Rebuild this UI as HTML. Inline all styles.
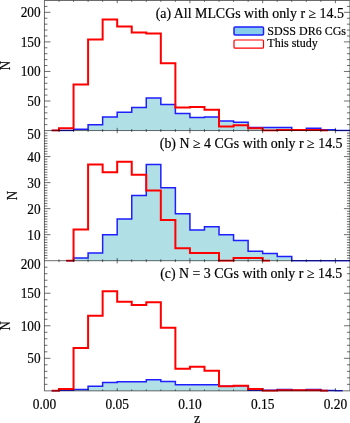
<!DOCTYPE html>
<html><head><meta charset="utf-8"><style>html,body{margin:0;padding:0;background:#fff;}body{width:350px;height:423px;overflow:hidden;}svg{display:block;will-change:transform;}text{font-family:"Liberation Serif",serif;fill:#000;stroke:#000;stroke-width:0.18px;}</style></head><body>
<svg width="350" height="423" viewBox="0 0 350 423">
<clipPath id="c0"><rect x="43.45" y="-0.50" width="307.50" height="132.05"/></clipPath>
<g clip-path="url(#c0)">
<polygon points="51.72,130.55 51.72,130.55 59.00,130.55 59.00,130.55 73.55,130.55 73.55,129.37 88.09,129.37 88.09,124.64 102.64,124.64 102.64,116.95 117.19,116.95 117.19,112.22 131.74,112.22 131.74,107.50 146.28,107.50 146.28,98.04 160.83,98.04 160.83,104.54 175.38,104.54 175.38,113.41 189.93,113.41 189.93,117.55 204.47,117.55 204.47,116.95 219.02,116.95 219.02,121.09 233.57,121.09 233.57,122.27 248.12,122.27 248.12,127.59 262.66,127.59 262.66,127.59 277.21,127.59 277.21,127.59 291.76,127.59 291.76,129.72 306.31,129.72 306.31,128.36 320.85,128.36 320.85,129.72 335.40,129.72 335.40,130.55 349.95,130.55 349.95,130.55 357.22,130.55 357.22,130.55" fill="#b0e0e6"/>
</g>
<clipPath id="c1"><rect x="43.45" y="129.55" width="307.50" height="132.15"/></clipPath>
<g clip-path="url(#c1)">
<polygon points="66.27,260.70 66.27,260.70 73.55,260.70 73.55,258.10 88.09,258.10 88.09,252.89 102.64,252.89 102.64,234.67 117.19,234.67 117.19,219.05 131.74,219.05 131.74,195.62 146.28,195.62 146.28,164.39 160.83,164.39 160.83,187.82 175.38,187.82 175.38,213.85 189.93,213.85 189.93,229.98 204.47,229.98 204.47,226.86 219.02,226.86 219.02,234.67 233.57,234.67 233.57,240.40 248.12,240.40 248.12,251.33 262.66,251.33 262.66,253.41 277.21,253.41 277.21,256.54 291.76,256.54 291.76,260.70 306.31,260.70 306.31,260.70 320.85,260.70 320.85,260.70 335.40,260.70 335.40,260.70 349.95,260.70 349.95,260.70 364.49,260.70 364.49,260.70 371.77,260.70 371.77,260.70" fill="#b0e0e6"/>
</g>
<clipPath id="c2"><rect x="43.45" y="259.70" width="307.50" height="132.15"/></clipPath>
<g clip-path="url(#c2)">
<polygon points="51.72,390.85 51.72,390.85 59.00,390.85 59.00,390.20 73.55,390.20 73.55,389.55 88.09,389.55 88.09,386.29 102.64,386.29 102.64,382.39 117.19,382.39 117.19,381.74 131.74,381.74 131.74,381.74 146.28,381.74 146.28,379.79 160.83,379.79 160.83,381.61 175.38,381.61 175.38,384.80 189.93,384.80 189.93,384.80 204.47,384.80 204.47,384.80 219.02,384.80 219.02,386.29 233.57,386.29 233.57,385.64 248.12,385.64 248.12,390.20 262.66,390.20 262.66,390.20 277.21,390.20 277.21,389.55 291.76,389.55 291.76,390.20 306.31,390.20 306.31,389.55 320.85,389.55 320.85,390.52 335.40,390.52 335.40,390.85 342.67,390.85 342.67,390.85" fill="#b0e0e6"/>
</g>
<g clip-path="url(#c0)" fill="none" stroke-linejoin="miter" stroke-linecap="butt">
<polyline points="51.72,130.55 59.00,130.55 59.00,130.55 73.55,130.55 73.55,129.37 88.09,129.37 88.09,124.64 102.64,124.64 102.64,116.95 117.19,116.95 117.19,112.22 131.74,112.22 131.74,107.50 146.28,107.50 146.28,98.04 160.83,98.04 160.83,104.54 175.38,104.54 175.38,113.41 189.93,113.41 189.93,117.55 204.47,117.55 204.47,116.95 219.02,116.95 219.02,121.09 233.57,121.09 233.57,122.27 248.12,122.27 248.12,127.59 262.66,127.59 262.66,127.59 277.21,127.59 277.21,127.59 291.76,127.59 291.76,129.72 306.31,129.72 306.31,128.36 320.85,128.36 320.85,129.72 335.40,129.72 335.40,130.55 349.95,130.55 349.95,130.55 357.22,130.55" stroke="#1e1eff" stroke-width="1.5"/>
<polyline points="51.72,130.55 59.00,130.55 59.00,128.19 73.55,128.19 73.55,84.44 88.09,84.44 88.09,39.52 102.64,39.52 102.64,19.42 117.19,19.42 117.19,26.51 131.74,26.51 131.74,32.42 146.28,32.42 146.28,33.60 160.83,33.60 160.83,63.16 175.38,63.16 175.38,107.50 189.93,107.50 189.93,106.90 204.47,106.90 204.47,109.86 219.02,109.86 219.02,126.41 233.57,126.41 233.57,125.23 248.12,125.23 248.12,128.19 262.66,128.19 262.66,130.55 277.21,130.55 277.21,129.96 291.76,129.96 291.76,129.96 306.31,129.96 306.31,129.96 320.85,129.96 320.85,130.55 328.13,130.55" stroke="#ff0000" stroke-width="2"/>
</g>
<g clip-path="url(#c1)" fill="none" stroke-linejoin="miter" stroke-linecap="butt">
<polyline points="66.27,260.70 73.55,260.70 73.55,258.10 88.09,258.10 88.09,252.89 102.64,252.89 102.64,234.67 117.19,234.67 117.19,219.05 131.74,219.05 131.74,195.62 146.28,195.62 146.28,164.39 160.83,164.39 160.83,187.82 175.38,187.82 175.38,213.85 189.93,213.85 189.93,229.98 204.47,229.98 204.47,226.86 219.02,226.86 219.02,234.67 233.57,234.67 233.57,240.40 248.12,240.40 248.12,251.33 262.66,251.33 262.66,253.41 277.21,253.41 277.21,256.54 291.76,256.54 291.76,260.70 306.31,260.70 306.31,260.70 320.85,260.70 320.85,260.70 335.40,260.70 335.40,260.70 349.95,260.70 349.95,260.70 364.49,260.70 364.49,260.70 371.77,260.70" stroke="#1e1eff" stroke-width="1.5"/>
<polyline points="66.27,260.70 73.55,260.70 73.55,229.46 88.09,229.46 88.09,164.39 102.64,164.39 102.64,172.20 117.19,172.20 117.19,161.79 131.74,161.79 131.74,174.80 146.28,174.80 146.28,190.42 160.83,190.42 160.83,220.09 175.38,220.09 175.38,248.34 189.93,248.34 189.93,252.89 204.47,252.89 204.47,252.89 219.02,252.89 219.02,260.70 233.57,260.70 233.57,258.10 248.12,258.10 248.12,258.10 262.66,258.10 262.66,260.70 269.94,260.70" stroke="#ff0000" stroke-width="2"/>
</g>
<g clip-path="url(#c2)" fill="none" stroke-linejoin="miter" stroke-linecap="butt">
<polyline points="51.72,390.85 59.00,390.85 59.00,390.20 73.55,390.20 73.55,389.55 88.09,389.55 88.09,386.29 102.64,386.29 102.64,382.39 117.19,382.39 117.19,381.74 131.74,381.74 131.74,381.74 146.28,381.74 146.28,379.79 160.83,379.79 160.83,381.61 175.38,381.61 175.38,384.80 189.93,384.80 189.93,384.80 204.47,384.80 204.47,384.80 219.02,384.80 219.02,386.29 233.57,386.29 233.57,385.64 248.12,385.64 248.12,390.20 262.66,390.20 262.66,390.20 277.21,390.20 277.21,389.55 291.76,389.55 291.76,390.20 306.31,390.20 306.31,389.55 320.85,389.55 320.85,390.52 335.40,390.52 335.40,390.85 342.67,390.85" stroke="#1e1eff" stroke-width="1.5"/>
<polyline points="51.72,390.85 59.00,390.85 59.00,388.90 73.55,388.90 73.55,347.90 88.09,347.90 88.09,315.69 102.64,315.69 102.64,291.29 117.19,291.29 117.19,301.70 131.74,301.70 131.74,304.95 146.28,304.95 146.28,302.35 160.83,302.35 160.83,327.73 175.38,327.73 175.38,368.72 189.93,368.72 189.93,366.77 204.47,366.77 204.47,370.68 219.02,370.68 219.02,386.29 233.57,386.29 233.57,385.64 248.12,385.64 248.12,388.90 262.66,388.90 262.66,390.85 277.21,390.85 277.21,390.20 291.76,390.20 291.76,390.20 306.31,390.20 306.31,390.20 320.85,390.20 320.85,390.85 328.13,390.85" stroke="#ff0000" stroke-width="2"/>
</g>
<g stroke="#000" stroke-width="0.58" fill="none">
<line x1="44.45" y1="0.50" x2="44.45" y2="130.55"/>
<line x1="349.95" y1="0.50" x2="349.95" y2="130.55"/>
<line x1="44.16" y1="0.50" x2="349.95" y2="0.50"/>
<line x1="59.00" y1="130.55" x2="59.00" y2="129.15"/>
<line x1="59.00" y1="0.50" x2="59.00" y2="1.90"/>
<line x1="73.55" y1="130.55" x2="73.55" y2="129.15"/>
<line x1="73.55" y1="0.50" x2="73.55" y2="1.90"/>
<line x1="88.09" y1="130.55" x2="88.09" y2="129.15"/>
<line x1="88.09" y1="0.50" x2="88.09" y2="1.90"/>
<line x1="102.64" y1="130.55" x2="102.64" y2="129.15"/>
<line x1="102.64" y1="0.50" x2="102.64" y2="1.90"/>
<line x1="117.19" y1="130.55" x2="117.19" y2="127.85"/>
<line x1="117.19" y1="0.50" x2="117.19" y2="3.20"/>
<line x1="131.74" y1="130.55" x2="131.74" y2="129.15"/>
<line x1="131.74" y1="0.50" x2="131.74" y2="1.90"/>
<line x1="146.28" y1="130.55" x2="146.28" y2="129.15"/>
<line x1="146.28" y1="0.50" x2="146.28" y2="1.90"/>
<line x1="160.83" y1="130.55" x2="160.83" y2="129.15"/>
<line x1="160.83" y1="0.50" x2="160.83" y2="1.90"/>
<line x1="175.38" y1="130.55" x2="175.38" y2="129.15"/>
<line x1="175.38" y1="0.50" x2="175.38" y2="1.90"/>
<line x1="189.93" y1="130.55" x2="189.93" y2="127.85"/>
<line x1="189.93" y1="0.50" x2="189.93" y2="3.20"/>
<line x1="204.47" y1="130.55" x2="204.47" y2="129.15"/>
<line x1="204.47" y1="0.50" x2="204.47" y2="1.90"/>
<line x1="219.02" y1="130.55" x2="219.02" y2="129.15"/>
<line x1="219.02" y1="0.50" x2="219.02" y2="1.90"/>
<line x1="233.57" y1="130.55" x2="233.57" y2="129.15"/>
<line x1="233.57" y1="0.50" x2="233.57" y2="1.90"/>
<line x1="248.12" y1="130.55" x2="248.12" y2="129.15"/>
<line x1="248.12" y1="0.50" x2="248.12" y2="1.90"/>
<line x1="262.66" y1="130.55" x2="262.66" y2="127.85"/>
<line x1="262.66" y1="0.50" x2="262.66" y2="3.20"/>
<line x1="277.21" y1="130.55" x2="277.21" y2="129.15"/>
<line x1="277.21" y1="0.50" x2="277.21" y2="1.90"/>
<line x1="291.76" y1="130.55" x2="291.76" y2="129.15"/>
<line x1="291.76" y1="0.50" x2="291.76" y2="1.90"/>
<line x1="306.31" y1="130.55" x2="306.31" y2="129.15"/>
<line x1="306.31" y1="0.50" x2="306.31" y2="1.90"/>
<line x1="320.85" y1="130.55" x2="320.85" y2="129.15"/>
<line x1="320.85" y1="0.50" x2="320.85" y2="1.90"/>
<line x1="335.40" y1="130.55" x2="335.40" y2="127.85"/>
<line x1="335.40" y1="0.50" x2="335.40" y2="3.20"/>
<line x1="44.45" y1="124.64" x2="47.45" y2="124.64"/>
<line x1="349.95" y1="124.64" x2="346.95" y2="124.64"/>
<line x1="44.45" y1="118.73" x2="47.45" y2="118.73"/>
<line x1="349.95" y1="118.73" x2="346.95" y2="118.73"/>
<line x1="44.45" y1="112.82" x2="47.45" y2="112.82"/>
<line x1="349.95" y1="112.82" x2="346.95" y2="112.82"/>
<line x1="44.45" y1="106.90" x2="47.45" y2="106.90"/>
<line x1="349.95" y1="106.90" x2="346.95" y2="106.90"/>
<line x1="44.45" y1="100.99" x2="50.45" y2="100.99"/>
<line x1="349.95" y1="100.99" x2="343.95" y2="100.99"/>
<line x1="44.45" y1="95.08" x2="47.45" y2="95.08"/>
<line x1="349.95" y1="95.08" x2="346.95" y2="95.08"/>
<line x1="44.45" y1="89.17" x2="47.45" y2="89.17"/>
<line x1="349.95" y1="89.17" x2="346.95" y2="89.17"/>
<line x1="44.45" y1="83.26" x2="47.45" y2="83.26"/>
<line x1="349.95" y1="83.26" x2="346.95" y2="83.26"/>
<line x1="44.45" y1="77.35" x2="47.45" y2="77.35"/>
<line x1="349.95" y1="77.35" x2="346.95" y2="77.35"/>
<line x1="44.45" y1="71.44" x2="50.45" y2="71.44"/>
<line x1="349.95" y1="71.44" x2="343.95" y2="71.44"/>
<line x1="44.45" y1="65.53" x2="47.45" y2="65.53"/>
<line x1="349.95" y1="65.53" x2="346.95" y2="65.53"/>
<line x1="44.45" y1="59.61" x2="47.45" y2="59.61"/>
<line x1="349.95" y1="59.61" x2="346.95" y2="59.61"/>
<line x1="44.45" y1="53.70" x2="47.45" y2="53.70"/>
<line x1="349.95" y1="53.70" x2="346.95" y2="53.70"/>
<line x1="44.45" y1="47.79" x2="47.45" y2="47.79"/>
<line x1="349.95" y1="47.79" x2="346.95" y2="47.79"/>
<line x1="44.45" y1="41.88" x2="50.45" y2="41.88"/>
<line x1="349.95" y1="41.88" x2="343.95" y2="41.88"/>
<line x1="44.45" y1="35.97" x2="47.45" y2="35.97"/>
<line x1="349.95" y1="35.97" x2="346.95" y2="35.97"/>
<line x1="44.45" y1="30.06" x2="47.45" y2="30.06"/>
<line x1="349.95" y1="30.06" x2="346.95" y2="30.06"/>
<line x1="44.45" y1="24.15" x2="47.45" y2="24.15"/>
<line x1="349.95" y1="24.15" x2="346.95" y2="24.15"/>
<line x1="44.45" y1="18.23" x2="47.45" y2="18.23"/>
<line x1="349.95" y1="18.23" x2="346.95" y2="18.23"/>
<line x1="44.45" y1="12.32" x2="50.45" y2="12.32"/>
<line x1="349.95" y1="12.32" x2="343.95" y2="12.32"/>
<line x1="44.45" y1="6.41" x2="47.45" y2="6.41"/>
<line x1="349.95" y1="6.41" x2="346.95" y2="6.41"/>
</g>
<g stroke="#000" stroke-width="0.58" fill="none">
<line x1="44.45" y1="130.55" x2="44.45" y2="260.70"/>
<line x1="349.95" y1="130.55" x2="349.95" y2="260.70"/>
<line x1="44.16" y1="130.55" x2="349.95" y2="130.55"/>
<line x1="59.00" y1="260.70" x2="59.00" y2="259.30"/>
<line x1="59.00" y1="130.55" x2="59.00" y2="131.95"/>
<line x1="73.55" y1="260.70" x2="73.55" y2="259.30"/>
<line x1="73.55" y1="130.55" x2="73.55" y2="131.95"/>
<line x1="88.09" y1="260.70" x2="88.09" y2="259.30"/>
<line x1="88.09" y1="130.55" x2="88.09" y2="131.95"/>
<line x1="102.64" y1="260.70" x2="102.64" y2="259.30"/>
<line x1="102.64" y1="130.55" x2="102.64" y2="131.95"/>
<line x1="117.19" y1="260.70" x2="117.19" y2="258.00"/>
<line x1="117.19" y1="130.55" x2="117.19" y2="133.25"/>
<line x1="131.74" y1="260.70" x2="131.74" y2="259.30"/>
<line x1="131.74" y1="130.55" x2="131.74" y2="131.95"/>
<line x1="146.28" y1="260.70" x2="146.28" y2="259.30"/>
<line x1="146.28" y1="130.55" x2="146.28" y2="131.95"/>
<line x1="160.83" y1="260.70" x2="160.83" y2="259.30"/>
<line x1="160.83" y1="130.55" x2="160.83" y2="131.95"/>
<line x1="175.38" y1="260.70" x2="175.38" y2="259.30"/>
<line x1="175.38" y1="130.55" x2="175.38" y2="131.95"/>
<line x1="189.93" y1="260.70" x2="189.93" y2="258.00"/>
<line x1="189.93" y1="130.55" x2="189.93" y2="133.25"/>
<line x1="204.47" y1="260.70" x2="204.47" y2="259.30"/>
<line x1="204.47" y1="130.55" x2="204.47" y2="131.95"/>
<line x1="219.02" y1="260.70" x2="219.02" y2="259.30"/>
<line x1="219.02" y1="130.55" x2="219.02" y2="131.95"/>
<line x1="233.57" y1="260.70" x2="233.57" y2="259.30"/>
<line x1="233.57" y1="130.55" x2="233.57" y2="131.95"/>
<line x1="248.12" y1="260.70" x2="248.12" y2="259.30"/>
<line x1="248.12" y1="130.55" x2="248.12" y2="131.95"/>
<line x1="262.66" y1="260.70" x2="262.66" y2="258.00"/>
<line x1="262.66" y1="130.55" x2="262.66" y2="133.25"/>
<line x1="277.21" y1="260.70" x2="277.21" y2="259.30"/>
<line x1="277.21" y1="130.55" x2="277.21" y2="131.95"/>
<line x1="291.76" y1="260.70" x2="291.76" y2="259.30"/>
<line x1="291.76" y1="130.55" x2="291.76" y2="131.95"/>
<line x1="306.31" y1="260.70" x2="306.31" y2="259.30"/>
<line x1="306.31" y1="130.55" x2="306.31" y2="131.95"/>
<line x1="320.85" y1="260.70" x2="320.85" y2="259.30"/>
<line x1="320.85" y1="130.55" x2="320.85" y2="131.95"/>
<line x1="335.40" y1="260.70" x2="335.40" y2="258.00"/>
<line x1="335.40" y1="130.55" x2="335.40" y2="133.25"/>
<line x1="44.45" y1="258.10" x2="47.45" y2="258.10"/>
<line x1="349.95" y1="258.10" x2="346.95" y2="258.10"/>
<line x1="44.45" y1="255.49" x2="47.45" y2="255.49"/>
<line x1="349.95" y1="255.49" x2="346.95" y2="255.49"/>
<line x1="44.45" y1="252.89" x2="47.45" y2="252.89"/>
<line x1="349.95" y1="252.89" x2="346.95" y2="252.89"/>
<line x1="44.45" y1="250.29" x2="47.45" y2="250.29"/>
<line x1="349.95" y1="250.29" x2="346.95" y2="250.29"/>
<line x1="44.45" y1="247.69" x2="47.45" y2="247.69"/>
<line x1="349.95" y1="247.69" x2="346.95" y2="247.69"/>
<line x1="44.45" y1="245.08" x2="47.45" y2="245.08"/>
<line x1="349.95" y1="245.08" x2="346.95" y2="245.08"/>
<line x1="44.45" y1="242.48" x2="47.45" y2="242.48"/>
<line x1="349.95" y1="242.48" x2="346.95" y2="242.48"/>
<line x1="44.45" y1="239.88" x2="47.45" y2="239.88"/>
<line x1="349.95" y1="239.88" x2="346.95" y2="239.88"/>
<line x1="44.45" y1="237.27" x2="47.45" y2="237.27"/>
<line x1="349.95" y1="237.27" x2="346.95" y2="237.27"/>
<line x1="44.45" y1="234.67" x2="50.45" y2="234.67"/>
<line x1="349.95" y1="234.67" x2="343.95" y2="234.67"/>
<line x1="44.45" y1="232.07" x2="47.45" y2="232.07"/>
<line x1="349.95" y1="232.07" x2="346.95" y2="232.07"/>
<line x1="44.45" y1="229.46" x2="47.45" y2="229.46"/>
<line x1="349.95" y1="229.46" x2="346.95" y2="229.46"/>
<line x1="44.45" y1="226.86" x2="47.45" y2="226.86"/>
<line x1="349.95" y1="226.86" x2="346.95" y2="226.86"/>
<line x1="44.45" y1="224.26" x2="47.45" y2="224.26"/>
<line x1="349.95" y1="224.26" x2="346.95" y2="224.26"/>
<line x1="44.45" y1="221.66" x2="47.45" y2="221.66"/>
<line x1="349.95" y1="221.66" x2="346.95" y2="221.66"/>
<line x1="44.45" y1="219.05" x2="47.45" y2="219.05"/>
<line x1="349.95" y1="219.05" x2="346.95" y2="219.05"/>
<line x1="44.45" y1="216.45" x2="47.45" y2="216.45"/>
<line x1="349.95" y1="216.45" x2="346.95" y2="216.45"/>
<line x1="44.45" y1="213.85" x2="47.45" y2="213.85"/>
<line x1="349.95" y1="213.85" x2="346.95" y2="213.85"/>
<line x1="44.45" y1="211.24" x2="47.45" y2="211.24"/>
<line x1="349.95" y1="211.24" x2="346.95" y2="211.24"/>
<line x1="44.45" y1="208.64" x2="50.45" y2="208.64"/>
<line x1="349.95" y1="208.64" x2="343.95" y2="208.64"/>
<line x1="44.45" y1="206.04" x2="47.45" y2="206.04"/>
<line x1="349.95" y1="206.04" x2="346.95" y2="206.04"/>
<line x1="44.45" y1="203.43" x2="47.45" y2="203.43"/>
<line x1="349.95" y1="203.43" x2="346.95" y2="203.43"/>
<line x1="44.45" y1="200.83" x2="47.45" y2="200.83"/>
<line x1="349.95" y1="200.83" x2="346.95" y2="200.83"/>
<line x1="44.45" y1="198.23" x2="47.45" y2="198.23"/>
<line x1="349.95" y1="198.23" x2="346.95" y2="198.23"/>
<line x1="44.45" y1="195.62" x2="47.45" y2="195.62"/>
<line x1="349.95" y1="195.62" x2="346.95" y2="195.62"/>
<line x1="44.45" y1="193.02" x2="47.45" y2="193.02"/>
<line x1="349.95" y1="193.02" x2="346.95" y2="193.02"/>
<line x1="44.45" y1="190.42" x2="47.45" y2="190.42"/>
<line x1="349.95" y1="190.42" x2="346.95" y2="190.42"/>
<line x1="44.45" y1="187.82" x2="47.45" y2="187.82"/>
<line x1="349.95" y1="187.82" x2="346.95" y2="187.82"/>
<line x1="44.45" y1="185.21" x2="47.45" y2="185.21"/>
<line x1="349.95" y1="185.21" x2="346.95" y2="185.21"/>
<line x1="44.45" y1="182.61" x2="50.45" y2="182.61"/>
<line x1="349.95" y1="182.61" x2="343.95" y2="182.61"/>
<line x1="44.45" y1="180.01" x2="47.45" y2="180.01"/>
<line x1="349.95" y1="180.01" x2="346.95" y2="180.01"/>
<line x1="44.45" y1="177.40" x2="47.45" y2="177.40"/>
<line x1="349.95" y1="177.40" x2="346.95" y2="177.40"/>
<line x1="44.45" y1="174.80" x2="47.45" y2="174.80"/>
<line x1="349.95" y1="174.80" x2="346.95" y2="174.80"/>
<line x1="44.45" y1="172.20" x2="47.45" y2="172.20"/>
<line x1="349.95" y1="172.20" x2="346.95" y2="172.20"/>
<line x1="44.45" y1="169.60" x2="47.45" y2="169.60"/>
<line x1="349.95" y1="169.60" x2="346.95" y2="169.60"/>
<line x1="44.45" y1="166.99" x2="47.45" y2="166.99"/>
<line x1="349.95" y1="166.99" x2="346.95" y2="166.99"/>
<line x1="44.45" y1="164.39" x2="47.45" y2="164.39"/>
<line x1="349.95" y1="164.39" x2="346.95" y2="164.39"/>
<line x1="44.45" y1="161.79" x2="47.45" y2="161.79"/>
<line x1="349.95" y1="161.79" x2="346.95" y2="161.79"/>
<line x1="44.45" y1="159.18" x2="47.45" y2="159.18"/>
<line x1="349.95" y1="159.18" x2="346.95" y2="159.18"/>
<line x1="44.45" y1="156.58" x2="50.45" y2="156.58"/>
<line x1="349.95" y1="156.58" x2="343.95" y2="156.58"/>
<line x1="44.45" y1="153.98" x2="47.45" y2="153.98"/>
<line x1="349.95" y1="153.98" x2="346.95" y2="153.98"/>
<line x1="44.45" y1="151.37" x2="47.45" y2="151.37"/>
<line x1="349.95" y1="151.37" x2="346.95" y2="151.37"/>
<line x1="44.45" y1="148.77" x2="47.45" y2="148.77"/>
<line x1="349.95" y1="148.77" x2="346.95" y2="148.77"/>
<line x1="44.45" y1="146.17" x2="47.45" y2="146.17"/>
<line x1="349.95" y1="146.17" x2="346.95" y2="146.17"/>
<line x1="44.45" y1="143.56" x2="47.45" y2="143.56"/>
<line x1="349.95" y1="143.56" x2="346.95" y2="143.56"/>
<line x1="44.45" y1="140.96" x2="47.45" y2="140.96"/>
<line x1="349.95" y1="140.96" x2="346.95" y2="140.96"/>
<line x1="44.45" y1="138.36" x2="47.45" y2="138.36"/>
<line x1="349.95" y1="138.36" x2="346.95" y2="138.36"/>
<line x1="44.45" y1="135.76" x2="47.45" y2="135.76"/>
<line x1="349.95" y1="135.76" x2="346.95" y2="135.76"/>
<line x1="44.45" y1="133.15" x2="47.45" y2="133.15"/>
<line x1="349.95" y1="133.15" x2="346.95" y2="133.15"/>
</g>
<g stroke="#000" stroke-width="0.58" fill="none">
<line x1="44.45" y1="260.70" x2="44.45" y2="390.85"/>
<line x1="349.95" y1="260.70" x2="349.95" y2="390.85"/>
<line x1="44.16" y1="260.70" x2="349.95" y2="260.70"/>
<line x1="44.16" y1="390.85" x2="349.95" y2="390.85"/>
<line x1="59.00" y1="390.85" x2="59.00" y2="389.45"/>
<line x1="59.00" y1="260.70" x2="59.00" y2="262.10"/>
<line x1="73.55" y1="390.85" x2="73.55" y2="389.45"/>
<line x1="73.55" y1="260.70" x2="73.55" y2="262.10"/>
<line x1="88.09" y1="390.85" x2="88.09" y2="389.45"/>
<line x1="88.09" y1="260.70" x2="88.09" y2="262.10"/>
<line x1="102.64" y1="390.85" x2="102.64" y2="389.45"/>
<line x1="102.64" y1="260.70" x2="102.64" y2="262.10"/>
<line x1="117.19" y1="390.85" x2="117.19" y2="388.15"/>
<line x1="117.19" y1="260.70" x2="117.19" y2="263.40"/>
<line x1="131.74" y1="390.85" x2="131.74" y2="389.45"/>
<line x1="131.74" y1="260.70" x2="131.74" y2="262.10"/>
<line x1="146.28" y1="390.85" x2="146.28" y2="389.45"/>
<line x1="146.28" y1="260.70" x2="146.28" y2="262.10"/>
<line x1="160.83" y1="390.85" x2="160.83" y2="389.45"/>
<line x1="160.83" y1="260.70" x2="160.83" y2="262.10"/>
<line x1="175.38" y1="390.85" x2="175.38" y2="389.45"/>
<line x1="175.38" y1="260.70" x2="175.38" y2="262.10"/>
<line x1="189.93" y1="390.85" x2="189.93" y2="388.15"/>
<line x1="189.93" y1="260.70" x2="189.93" y2="263.40"/>
<line x1="204.47" y1="390.85" x2="204.47" y2="389.45"/>
<line x1="204.47" y1="260.70" x2="204.47" y2="262.10"/>
<line x1="219.02" y1="390.85" x2="219.02" y2="389.45"/>
<line x1="219.02" y1="260.70" x2="219.02" y2="262.10"/>
<line x1="233.57" y1="390.85" x2="233.57" y2="389.45"/>
<line x1="233.57" y1="260.70" x2="233.57" y2="262.10"/>
<line x1="248.12" y1="390.85" x2="248.12" y2="389.45"/>
<line x1="248.12" y1="260.70" x2="248.12" y2="262.10"/>
<line x1="262.66" y1="390.85" x2="262.66" y2="388.15"/>
<line x1="262.66" y1="260.70" x2="262.66" y2="263.40"/>
<line x1="277.21" y1="390.85" x2="277.21" y2="389.45"/>
<line x1="277.21" y1="260.70" x2="277.21" y2="262.10"/>
<line x1="291.76" y1="390.85" x2="291.76" y2="389.45"/>
<line x1="291.76" y1="260.70" x2="291.76" y2="262.10"/>
<line x1="306.31" y1="390.85" x2="306.31" y2="389.45"/>
<line x1="306.31" y1="260.70" x2="306.31" y2="262.10"/>
<line x1="320.85" y1="390.85" x2="320.85" y2="389.45"/>
<line x1="320.85" y1="260.70" x2="320.85" y2="262.10"/>
<line x1="335.40" y1="390.85" x2="335.40" y2="388.15"/>
<line x1="335.40" y1="260.70" x2="335.40" y2="263.40"/>
<line x1="44.45" y1="384.34" x2="47.45" y2="384.34"/>
<line x1="349.95" y1="384.34" x2="346.95" y2="384.34"/>
<line x1="44.45" y1="377.84" x2="47.45" y2="377.84"/>
<line x1="349.95" y1="377.84" x2="346.95" y2="377.84"/>
<line x1="44.45" y1="371.33" x2="47.45" y2="371.33"/>
<line x1="349.95" y1="371.33" x2="346.95" y2="371.33"/>
<line x1="44.45" y1="364.82" x2="47.45" y2="364.82"/>
<line x1="349.95" y1="364.82" x2="346.95" y2="364.82"/>
<line x1="44.45" y1="358.31" x2="50.45" y2="358.31"/>
<line x1="349.95" y1="358.31" x2="343.95" y2="358.31"/>
<line x1="44.45" y1="351.81" x2="47.45" y2="351.81"/>
<line x1="349.95" y1="351.81" x2="346.95" y2="351.81"/>
<line x1="44.45" y1="345.30" x2="47.45" y2="345.30"/>
<line x1="349.95" y1="345.30" x2="346.95" y2="345.30"/>
<line x1="44.45" y1="338.79" x2="47.45" y2="338.79"/>
<line x1="349.95" y1="338.79" x2="346.95" y2="338.79"/>
<line x1="44.45" y1="332.28" x2="47.45" y2="332.28"/>
<line x1="349.95" y1="332.28" x2="346.95" y2="332.28"/>
<line x1="44.45" y1="325.77" x2="50.45" y2="325.77"/>
<line x1="349.95" y1="325.77" x2="343.95" y2="325.77"/>
<line x1="44.45" y1="319.27" x2="47.45" y2="319.27"/>
<line x1="349.95" y1="319.27" x2="346.95" y2="319.27"/>
<line x1="44.45" y1="312.76" x2="47.45" y2="312.76"/>
<line x1="349.95" y1="312.76" x2="346.95" y2="312.76"/>
<line x1="44.45" y1="306.25" x2="47.45" y2="306.25"/>
<line x1="349.95" y1="306.25" x2="346.95" y2="306.25"/>
<line x1="44.45" y1="299.75" x2="47.45" y2="299.75"/>
<line x1="349.95" y1="299.75" x2="346.95" y2="299.75"/>
<line x1="44.45" y1="293.24" x2="50.45" y2="293.24"/>
<line x1="349.95" y1="293.24" x2="343.95" y2="293.24"/>
<line x1="44.45" y1="286.73" x2="47.45" y2="286.73"/>
<line x1="349.95" y1="286.73" x2="346.95" y2="286.73"/>
<line x1="44.45" y1="280.22" x2="47.45" y2="280.22"/>
<line x1="349.95" y1="280.22" x2="346.95" y2="280.22"/>
<line x1="44.45" y1="273.71" x2="47.45" y2="273.71"/>
<line x1="349.95" y1="273.71" x2="346.95" y2="273.71"/>
<line x1="44.45" y1="267.21" x2="47.45" y2="267.21"/>
<line x1="349.95" y1="267.21" x2="346.95" y2="267.21"/>
</g>
<text font-size="14" text-anchor="end" dominant-baseline="central" transform="translate(40.6,101.24) scale(0.95,1)">50</text>
<text font-size="14" text-anchor="end" dominant-baseline="central" transform="translate(40.6,71.69) scale(0.95,1)">100</text>
<text font-size="14" text-anchor="end" dominant-baseline="central" transform="translate(40.6,42.13) scale(0.95,1)">150</text>
<text font-size="14" text-anchor="end" dominant-baseline="central" transform="translate(40.6,12.57) scale(0.95,1)">200</text>
<text x="0" y="0" font-size="14" text-anchor="middle" transform="translate(9.70,65.53) rotate(-90) scale(0.93,1)">N</text>
<text x="343.90" y="18.10" font-size="13.90" text-anchor="end">(a) All MLCGs with only r ≥ 14.5</text>
<text font-size="14" text-anchor="end" dominant-baseline="central" transform="translate(40.6,235.37) scale(0.95,1)">10</text>
<text font-size="14" text-anchor="end" dominant-baseline="central" transform="translate(40.6,209.34) scale(0.95,1)">20</text>
<text font-size="14" text-anchor="end" dominant-baseline="central" transform="translate(40.6,183.31) scale(0.95,1)">30</text>
<text font-size="14" text-anchor="end" dominant-baseline="central" transform="translate(40.6,157.28) scale(0.95,1)">40</text>
<text font-size="14" text-anchor="end" dominant-baseline="central" transform="translate(40.6,134.55) scale(0.95,1)">50</text>
<text x="0" y="0" font-size="14" text-anchor="middle" transform="translate(16.50,195.62) rotate(-90) scale(0.93,1)">N</text>
<text x="342.50" y="148.15" font-size="13.90" text-anchor="end">(b) N ≥ 4 CGs with only r ≥ 14.5</text>
<text font-size="14" text-anchor="end" dominant-baseline="central" transform="translate(40.6,358.56) scale(0.95,1)">50</text>
<text font-size="14" text-anchor="end" dominant-baseline="central" transform="translate(40.6,326.02) scale(0.95,1)">100</text>
<text font-size="14" text-anchor="end" dominant-baseline="central" transform="translate(40.6,293.49) scale(0.95,1)">150</text>
<text font-size="14" text-anchor="end" dominant-baseline="central" transform="translate(40.6,264.25) scale(0.95,1)">200</text>
<text x="0" y="0" font-size="14" text-anchor="middle" transform="translate(9.70,325.77) rotate(-90) scale(0.93,1)">N</text>
<text x="342.30" y="278.40" font-size="13.90" text-anchor="end">(c) N = 3 CGs with only r ≥ 14.5</text>
<text font-size="14" text-anchor="middle" transform="translate(44.45,408.6) scale(0.96,1)">0.00</text>
<text font-size="14" text-anchor="middle" transform="translate(117.19,408.6) scale(0.96,1)">0.05</text>
<text font-size="14" text-anchor="middle" transform="translate(189.93,408.6) scale(0.96,1)">0.10</text>
<text font-size="14" text-anchor="middle" transform="translate(262.66,408.6) scale(0.96,1)">0.15</text>
<text font-size="14" text-anchor="middle" transform="translate(335.40,408.6) scale(0.96,1)">0.20</text>
<text x="197" y="423.2" font-size="14" text-anchor="middle">z</text>
<rect x="234" y="27" width="29.5" height="8" rx="1" fill="#87ceeb" stroke="#1e1eff" stroke-width="1.5"/>
<rect x="234" y="40" width="29.5" height="8.2" rx="1" fill="#fff" stroke="#ff0000" stroke-width="1.2"/>
<text x="267.3" y="34.6" font-size="12">SDSS DR6 CGs</text>
<text x="267.3" y="47.2" font-size="12">This study</text>
</svg></body></html>
